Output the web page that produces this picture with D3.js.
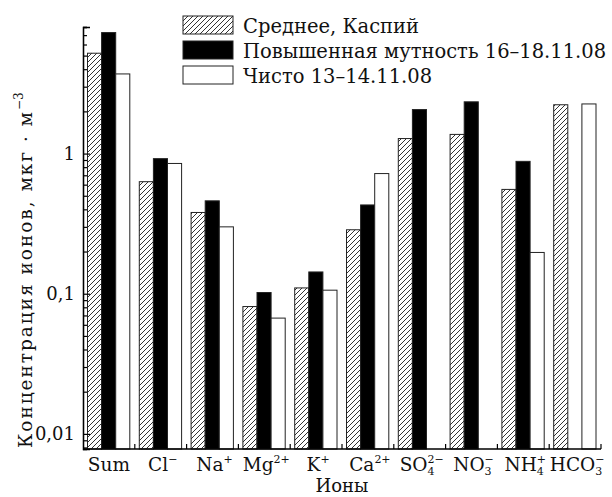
<!DOCTYPE html>
<html>
<head>
<meta charset="utf-8">
<script src="https://cdn.jsdelivr.net/npm/d3@7"></script>
<style>
  body { margin: 0; background: #fff; }
  text { font-family: "DejaVu Serif", "Liberation Serif", serif; fill: #111; }
</style>
</head>
<body>
<svg id="chart" width="612" height="497"></svg>
<script>
// ion groups along the x axis
const ions = ["Sum", "Cl", "Na", "Mg", "K", "Ca", "SO4", "NO3", "NH4", "HCO3"];
const ionLabels = [
    {base: "Sum"},
    {base: "Cl", sup: "−"},
    {base: "Na", sup: "+"},
    {base: "Mg", sup: "2+"},
    {base: "K", sup: "+"},
    {base: "Ca", sup: "2+"},
    {base: "SO", sub: "4", sup: "2−"},
    {base: "NO", sub: "3", sup: "−"},
    {base: "NH", sub: "4", sup: "+"},
    {base: "HCO", sub: "3", sup: "−"}
];
const seriesNames = ["Среднее, Каспий", "Повышенная мутность 16–18.11.08", "Чисто 13–14.11.08"];
// concentrations, mkg/m3 (null = no bar)
const caspianMean = [5.2, 0.63, 0.38, 0.081, 0.11, 0.286, 1.28, 1.37, 0.555, 2.23];
const turbid = [7.3, 0.92, 0.46, 0.102, 0.143, 0.43, 2.06, 2.34, 0.88, null];
const clean = [3.7, 0.85, 0.30, 0.067, 0.106, 0.72, null, null, 0.197, 2.26];
const yMajorTicks = [0.01, 0.1, 1];
const yMajorLabels = ["0,01", "0,1", "1"];

const seriesValues = [caspianMean, turbid, clean];
const seriesFill = ["url(#hatch)", "#000", "#fff"];

const svg = d3.select("#chart");
const margin = {left: 83, right: 11, top: 27, bottom: 48};
const width = +svg.attr("width"), height = +svg.attr("height");

const defs = svg.append("defs");
const pat = defs.append("pattern")
    .attr("id", "hatch")
    .attr("patternUnits", "userSpaceOnUse")
    .attr("width", 5).attr("height", 5);
pat.append("rect").attr("width", 5).attr("height", 5).attr("fill", "#fff");
pat.append("path")
    .attr("d", "M-1,1 l2,-2 M0,5 l5,-5 M4,6 l2,-2")
    .attr("stroke", "#000").attr("stroke-width", 0.8);

const x = d3.scaleBand()
    .domain(ions)
    .range([margin.left, width - margin.right])
    .paddingInner(0).paddingOuter(0);

const xSub = d3.scaleBand()
    .domain(d3.range(seriesNames.length))
    .range([4.5, x.bandwidth() - 5]);

const y = d3.scaleLog()
    .domain([0.0078, 8])
    .range([height - margin.bottom, margin.top]);

// bars
const rows = [];
ions.forEach((ion, i) => {
    seriesValues.forEach((vals, s) => {
        if (vals[i] != null) rows.push({ion: ion, s: s, v: vals[i]});
    });
});

svg.append("g")
    .selectAll("rect")
    .data(rows)
    .join("rect")
    .attr("x", d => x(d.ion) + xSub(d.s))
    .attr("width", xSub.bandwidth())
    .attr("y", d => y(d.v))
    .attr("height", d => y.range()[0] - y(d.v))
    .attr("fill", d => seriesFill[d.s])
    .attr("stroke", "#222")
    .attr("stroke-width", 1);

// y axis with inward ticks
const minorTicks = y.ticks().filter(t => yMajorTicks.indexOf(t) === -1);
const yAxisG = svg.append("g").attr("transform", `translate(${margin.left},0)`);
yAxisG.call(d3.axisRight(y).tickValues(minorTicks).tickSize(4).tickFormat(""));
yAxisG.append("g").call(d3.axisRight(y).tickValues(yMajorTicks).tickSize(7).tickFormat(""));
yAxisG.selectAll(".domain").attr("stroke", "#000").attr("stroke-width", 1.3);
yAxisG.selectAll("line").attr("stroke", "#000").attr("stroke-width", 1.2);

svg.append("g")
    .selectAll("text")
    .data(yMajorTicks)
    .join("text")
    .attr("x", margin.left - 8)
    .attr("y", d => y(d))
    .attr("dy", "0.35em")
    .attr("text-anchor", "end")
    .attr("font-size", 18)
    .text((d, i) => yMajorLabels[i]);

// x axis: baseline plus small ticks between groups
const xAxisG = svg.append("g").attr("transform", `translate(0,${y.range()[0]})`);
xAxisG.call(d3.axisTop(x).tickSize(0).tickFormat(""));
xAxisG.select(".domain").attr("d", `M${margin.left},0H${width - margin.right}`)
    .attr("stroke", "#000").attr("stroke-width", 1.3);
xAxisG.selectAll(".tick").remove();
xAxisG.selectAll("line.sep")
    .data(ions)
    .join("line")
    .attr("class", "sep")
    .attr("x1", d => x(d) + x.bandwidth()).attr("x2", d => x(d) + x.bandwidth())
    .attr("y1", 0).attr("y2", -5)
    .attr("stroke", "#000").attr("stroke-width", 1.2);

// ion labels with sub/superscripts
const lab = svg.append("g")
    .selectAll("text")
    .data(ionLabels)
    .join("text")
    .attr("x", (d, i) => x(ions[i]) + x.bandwidth() / 2 + (d.sup ? 2 : 0))
    .attr("y", y.range()[0] + 22)
    .attr("text-anchor", "middle")
    .attr("font-size", 18.5);

lab.each(function(d) {
    const t = d3.select(this);
    t.append("tspan").text(d.base);
    let subW = 0;
    if (d.sub) {
        const sub = t.append("tspan").attr("font-size", 11).attr("dy", 4).text(d.sub);
        subW = sub.node().getComputedTextLength();
    }
    if (d.sup) {
        t.append("tspan")
            .attr("font-size", 11)
            .attr("dx", d.sub ? -subW : 0)
            .attr("dy", d.sub ? -12 : -8)
            .text(d.sup);
    }
});

svg.append("text")
    .attr("x", (margin.left + width - margin.right) / 2)
    .attr("y", height - 5)
    .attr("text-anchor", "middle")
    .attr("font-size", 18)
    .text("Ионы");

// y axis title, spread to the height of the plot like the original
const yTitleG = svg.append("g")
    .attr("transform", `translate(32,${y.range()[0] - 1}) rotate(-90)`);
yTitleG.append("text")
    .attr("x", 0).attr("y", 0)
    .attr("font-size", 18.5)
    .attr("textLength", 336)
    .attr("lengthAdjust", "spacing")
    .text("Концентрация ионов, мкг · м");
yTitleG.append("text")
    .attr("x", 338).attr("y", -9)
    .attr("font-size", 12)
    .text("−3");

// legend
const legend = svg.append("g")
    .selectAll("g")
    .data(seriesNames)
    .join("g")
    .attr("transform", (d, i) => `translate(183,${16 + i * 25})`);

legend.append("rect")
    .attr("width", 50).attr("height", 18)
    .attr("fill", (d, i) => seriesFill[i])
    .attr("stroke", "#222").attr("stroke-width", 1);

legend.append("text")
    .attr("x", 60).attr("y", 17)
    .attr("font-size", 19.5)
    .text(d => d);
</script>
</body>
</html>
